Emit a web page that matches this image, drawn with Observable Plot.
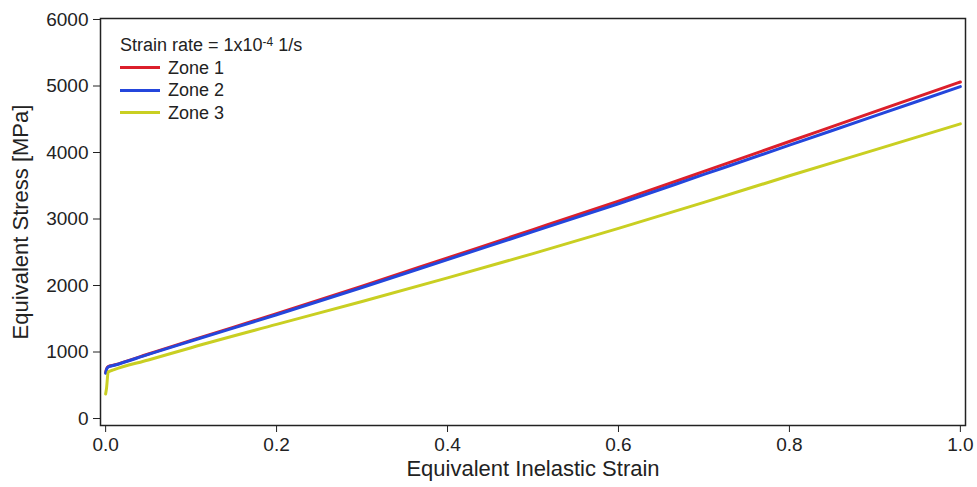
<!DOCTYPE html>
<html>
<head>
<meta charset="utf-8">
<script src="https://cdn.jsdelivr.net/npm/d3@7"></script>
<script src="https://cdn.jsdelivr.net/npm/@observablehq/plot@0.6"></script>
<style>
  html, body { margin: 0; padding: 0; background: #fff; }
  #wrap { position: relative; width: 977px; height: 487px; font-family: "Liberation Sans", Arial, sans-serif; }
  #legend { position: absolute; left: 120px; top: 34px; color: #222; font-size: 18px; line-height: 22.5px; }
  #legend .row { display: flex; align-items: center; height: 22.5px; white-space: nowrap; }
  #legend .sw { width: 40px; height: 3px; margin-right: 8px; }
  #legend sup { font-size: 12px; position: relative; top: -3px; vertical-align: top; }
</style>
</head>
<body>
<div id="wrap"><div id="legend"></div></div>
<script>
// Data
const strain = [0, 0.001, 0.003, 0.01, 0.05, 0.1, 0.2, 0.3, 0.4, 0.5, 0.6, 0.7, 0.8, 0.9, 1.0];
const zone1 = [690, 740, 780, 805, 970, 1175, 1575, 1990, 2415, 2840, 3270, 3715, 4165, 4615, 5060];
const zone2 = [680, 735, 775, 800, 965, 1165, 1560, 1970, 2390, 2810, 3230, 3670, 4110, 4550, 4990];
const zone3 = [370, 450, 700, 735, 880, 1065, 1415, 1760, 2115, 2480, 2860, 3250, 3650, 4040, 4430];
const seriesNames = ["Zone 1", "Zone 2", "Zone 3"];
const seriesColors = ["#dc1f2b", "#2446dc", "#c9cf22"];
const xTicks = [0, 0.2, 0.4, 0.6, 0.8, 1.0];
const yTicks = [0, 1000, 2000, 3000, 4000, 5000, 6000];
const xTitle = "Equivalent Inelastic Strain";
const yTitle = "Equivalent Stress [MPa]";

const allValues = [zone1, zone2, zone3];
const rows = [];
seriesNames.forEach((name, i) => {
  strain.forEach((s, j) => rows.push({zone: name, strain: s, stress: allValues[i][j]}));
});

const chart = Plot.plot({
  width: 977,
  height: 487,
  marginLeft: 100,
  marginRight: 12,
  marginTop: 18,
  marginBottom: 62,
  style: {fontFamily: "Liberation Sans, Arial, sans-serif", fontSize: "19px", color: "#222", background: "#fff"},
  x: {
    domain: [-0.006, 1.006],
    ticks: xTicks,
    tickFormat: d3.format(".1f"),
    tickSize: 7,
    tickPadding: 5,
    label: null
  },
  y: {
    domain: [-105, 6015],
    ticks: yTicks,
    tickFormat: d3.format("d"),
    tickSize: 7,
    tickPadding: 5,
    label: null
  },
  color: {domain: seriesNames, range: seriesColors},
  marks: [
    Plot.line(rows, {x: "strain", y: "stress", z: "zone", stroke: "zone", strokeWidth: 3, curve: "monotone-x"}),
    Plot.frame({stroke: "#222", strokeWidth: 1.5}),
    Plot.text([xTitle], {frameAnchor: "bottom", dy: 43, textAnchor: "middle", lineAnchor: "middle", fontSize: 22, fill: "#222"}),
    Plot.text([yTitle], {frameAnchor: "left", dx: -80, rotate: -90, textAnchor: "middle", lineAnchor: "middle", fontSize: 22, fill: "#222"})
  ]
});
document.getElementById("wrap").prepend(chart);

const legend = document.getElementById("legend");
const head = document.createElement("div");
head.className = "row";
head.innerHTML = "Strain rate = 1x10<sup>-4</sup>&nbsp;1/s";
legend.appendChild(head);
seriesNames.forEach((name, i) => {
  const r = document.createElement("div");
  r.className = "row";
  const sw = document.createElement("span");
  sw.className = "sw";
  sw.style.background = seriesColors[i];
  r.appendChild(sw);
  r.appendChild(document.createTextNode(name));
  legend.appendChild(r);
});
</script>
</body>
</html>
